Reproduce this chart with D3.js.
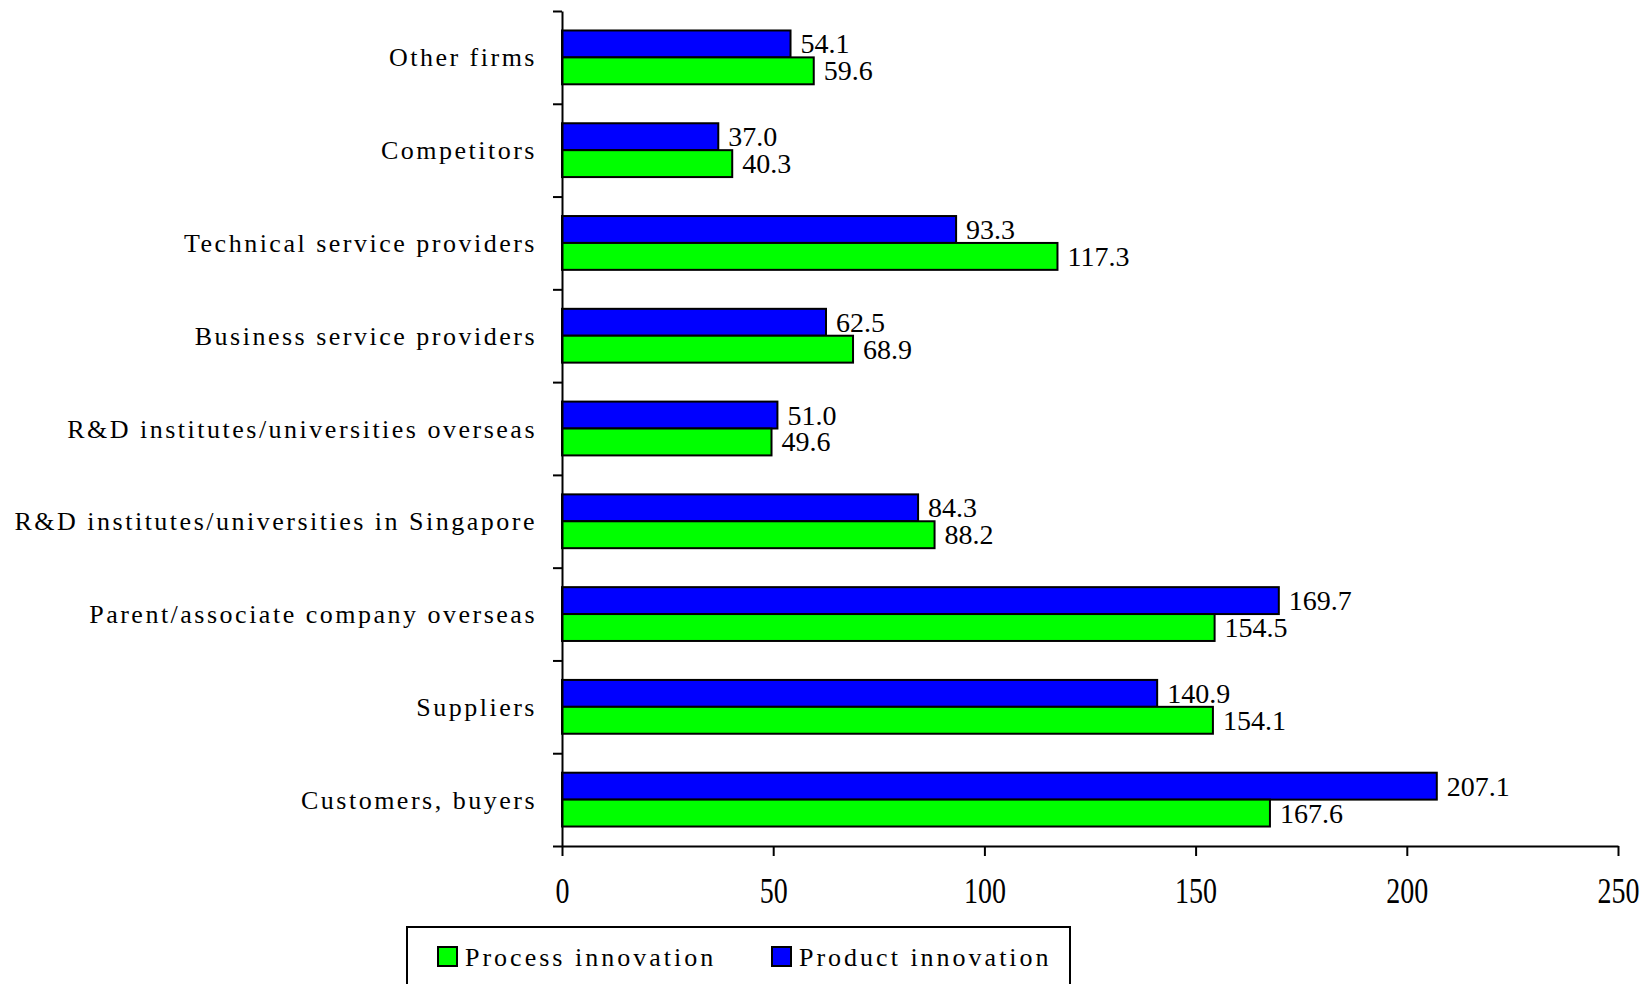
<!DOCTYPE html>
<html>
<head>
<meta charset="utf-8">
<script src="https://cdn.jsdelivr.net/npm/d3@7"></script>
<style>
  html, body { margin: 0; padding: 0; background: #fff; }
  svg { display: block; }
</style>
</head>
<body>
<svg id="chart" width="1650" height="984"></svg>
<script>
// Sources of innovation, listed top to bottom
const categories = [
  "Other firms",
  "Competitors",
  "Technical service providers",
  "Business service providers",
  "R&D institutes/universities overseas",
  "R&D institutes/universities in Singapore",
  "Parent/associate company overseas",
  "Suppliers ",
  "Customers, buyers"
];
const productValues = [54.1, 37.0, 93.3, 62.5, 51.0, 84.3, 169.7, 140.9, 207.1];
const processValues = [59.6, 40.3, 117.3, 68.9, 49.6, 88.2, 154.5, 154.1, 167.6];
const seriesNames = ["Process innovation", "Product innovation"];
const seriesColors = ["#00ff00", "#0000ff"];
const xTicks = [0, 50, 100, 150, 200, 250];

const FONT = "'Liberation Serif', 'Times New Roman', Times, serif";

const svg = d3.select("#chart");

const x = d3.scaleLinear().domain([0, 250]).range([562, 1618]);
const y = d3.scaleBand().domain(categories).range([11, 846]).padding(0);
const bw = y.bandwidth();
const barH = bw * 0.29;

// bar groups: product (blue) on top, process (green) below
const rows = categories.map((c, i) => ({ cat: c, product: productValues[i], process: processValues[i] }));

const g = svg.append("g");
rows.forEach(r => {
  const cy = y(r.cat) + bw / 2;
  g.append("rect")
    .attr("x", x(0)).attr("y", cy - barH)
    .attr("width", x(r.product) - x(0)).attr("height", barH)
    .attr("fill", seriesColors[1]).attr("stroke", "#000").attr("stroke-width", 2);
  g.append("rect")
    .attr("x", x(0)).attr("y", cy)
    .attr("width", x(r.process) - x(0)).attr("height", barH)
    .attr("fill", seriesColors[0]).attr("stroke", "#000").attr("stroke-width", 2);
  g.append("text")
    .attr("x", x(r.product) + 10).attr("y", cy - barH / 2 + 9.5)
    .attr("font-family", FONT).attr("font-size", 28).text(r.product.toFixed(1));
  g.append("text")
    .attr("x", x(r.process) + 10).attr("y", cy + barH / 2 + 9.5)
    .attr("font-family", FONT).attr("font-size", 28).text(r.process.toFixed(1));
});

// category axis: ticks sit on band boundaries
const yEdge = d3.scaleLinear().domain([0, categories.length]).range([846, 11]);
const yAxis = svg.append("g")
  .attr("transform", `translate(${x(0)},0)`)
  .call(d3.axisLeft(yEdge).ticks(categories.length).tickSize(9).tickSizeOuter(0).tickFormat(""));
yAxis.selectAll("path, line").attr("stroke", "#000").attr("stroke-width", 2);

// category labels
svg.append("g").selectAll("text")
  .data(categories).join("text")
  .attr("x", 537).attr("y", d => y(d) + bw / 2 + 9)
  .attr("text-anchor", "end")
  .attr("font-family", FONT)
  .attr("font-size", 26)
  .attr("letter-spacing", 2.5)
  .text(d => d);

// value axis
const xAxis = svg.append("g")
  .attr("transform", "translate(0,846)")
  .call(d3.axisBottom(x).tickValues(xTicks).tickSize(10).tickSizeOuter(0).tickFormat(d3.format("d")));
xAxis.selectAll("path, line").attr("stroke", "#000").attr("stroke-width", 2);
xAxis.attr("font-family", FONT);
xAxis.selectAll("text")
  .attr("y", 0).attr("dy", null)
  .attr("font-size", 28)
  .attr("fill", "#000")
  .attr("font-family", FONT)
  .attr("transform", "translate(0,57) scale(1,1.3)");

// legend
const legend = svg.append("g");
legend.append("rect")
  .attr("x", 407).attr("y", 927).attr("width", 663).attr("height", 80)
  .attr("fill", "none").attr("stroke", "#000").attr("stroke-width", 2);
const legendX = [438, 772];
seriesNames.forEach((name, i) => {
  legend.append("rect")
    .attr("x", legendX[i]).attr("y", 947).attr("width", 19).attr("height", 19)
    .attr("fill", seriesColors[i]).attr("stroke", "#000").attr("stroke-width", 2);
  legend.append("text")
    .attr("x", legendX[i] + 27).attr("y", 966)
    .attr("font-family", FONT)
    .attr("font-size", 26).attr("letter-spacing", 3)
    .text(name);
});
</script>
</body>
</html>
